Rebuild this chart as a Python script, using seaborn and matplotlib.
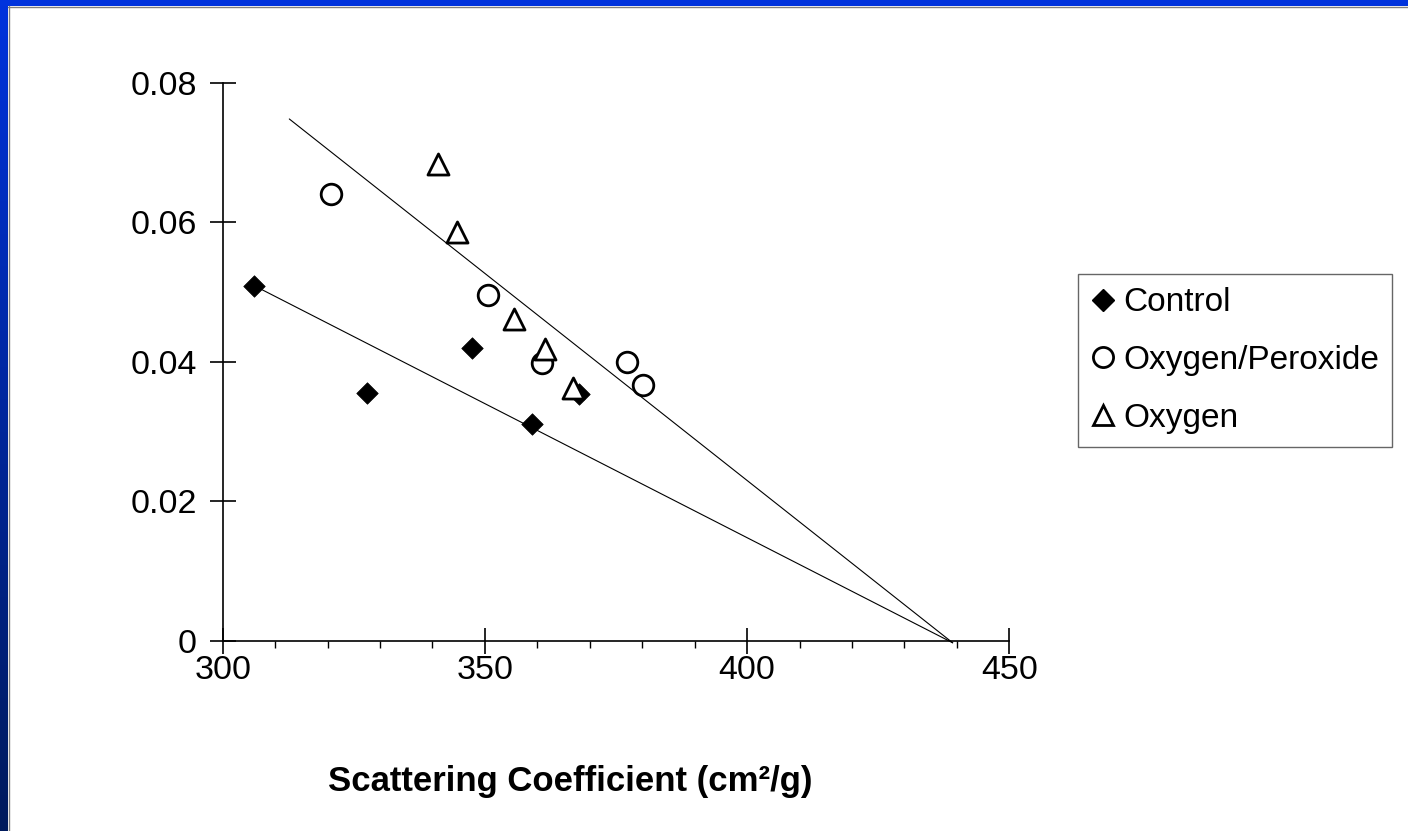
import numpy as np
import seaborn as sns
import matplotlib.pyplot as plt
from matplotlib.patches import Rectangle
from matplotlib.lines import Line2D
from matplotlib.ticker import MultipleLocator

# data
control_x = [306.0, 327.6, 347.5, 359.0, 367.9]
control_y = [0.0509, 0.0355, 0.0420, 0.0310, 0.0354]
peroxide_x = [320.6, 350.5, 360.8, 377.1, 380.1]
peroxide_y = [0.0640, 0.0495, 0.0398, 0.0399, 0.0367]
oxygen_x = [341.0, 344.6, 355.5, 361.5, 366.8]
oxygen_y = [0.0683, 0.0586, 0.0461, 0.0418, 0.0363]

# trend lines (endpoints as drawn)
control_fit_x = [306.0, 439.2]
control_fit_y = [0.0509, -0.0003]
upper_fit_x = [312.7, 439.2]
upper_fit_y = [0.0748, -0.0003]

xticks = [300, 350, 400, 450]
xtick_labels = ["300", "350", "400", "450"]
yticks = [0, 0.02, 0.04, 0.06, 0.08]
ytick_labels = ["0", "0.02", "0.04", "0.06", "0.08"]
series_names = ["Control", "Oxygen/Peroxide", "Oxygen"]

sns.set_style("white")
plt.rcParams["font.family"] = ["Liberation Sans", "DejaVu Sans"]
plt.rcParams["text.color"] = "black"
plt.rcParams["xtick.color"] = "black"
plt.rcParams["ytick.color"] = "black"
plt.rcParams["axes.labelcolor"] = "black"

W, H = 1408, 831
fig = plt.figure(figsize=(W / 100, H / 100), dpi=100)
fig.patch.set_facecolor("white")

ax = fig.add_axes([222.7 / W, 1 - 640.7 / H, (1009.3 - 222.7) / W, (640.7 - 82.7) / H])

sns.lineplot(x=control_fit_x, y=control_fit_y, ax=ax, color="black", lw=0.8, clip_on=False)
sns.lineplot(x=upper_fit_x, y=upper_fit_y, ax=ax, color="black", lw=0.8, clip_on=False)

sns.scatterplot(x=control_x, y=control_y, ax=ax, marker="D", s=120, color="black",
                edgecolor="black", linewidth=0.5, zorder=3, clip_on=False)
sns.scatterplot(x=peroxide_x, y=peroxide_y, ax=ax, marker="o", s=220, facecolor="white",
                edgecolor="black", linewidth=2.0, zorder=3, clip_on=False)
sns.scatterplot(x=oxygen_x, y=oxygen_y, ax=ax, marker="^", s=230, facecolor="white",
                edgecolor="black", linewidth=2.0, zorder=3, clip_on=False)

ax.set_xlim(300, 450)
ax.set_ylim(0, 0.08)
ax.set_xticks(xticks)
ax.set_xticklabels(xtick_labels)
ax.set_yticks(yticks)
ax.set_yticklabels(ytick_labels)
ax.xaxis.set_minor_locator(MultipleLocator(10))
ax.tick_params(which="major", direction="inout", length=19, width=1.2,
               labelsize=24.5, left=True, bottom=True)
ax.tick_params(axis="y", which="major", pad=9)
ax.tick_params(axis="x", which="major", pad=1)
ax.tick_params(axis="x", which="minor", direction="out", length=5, width=1.0, bottom=True)
for side in ["top", "right"]:
    ax.spines[side].set_visible(False)
for side in ["left", "bottom"]:
    ax.spines[side].set_color("black")
    ax.spines[side].set_linewidth(1.2)
ax.set_facecolor("white")

ax.set_xlabel("Scattering Coefficient (cm\u00b2/g)", fontsize=25, fontweight="bold")
ax.xaxis.set_label_coords(0.4415, -0.223)
ax.xaxis.label.set_va("top")

handles = [
    Line2D([], [], ls="none", marker="D", ms=11, mfc="black", mec="black"),
    Line2D([], [], ls="none", marker="o", ms=14.5, mfc="white", mec="black", mew=2.0),
    Line2D([], [], ls="none", marker="^", ms=14.5, mfc="white", mec="black", mew=2.0),
]
leg = fig.legend(handles, series_names, loc="upper left",
                 bbox_to_anchor=(1078 / W, 1 - 274 / H), bbox_transform=fig.transFigure,
                 fontsize=24, frameon=True, fancybox=False, borderaxespad=0,
                 handlelength=0.7, handletextpad=0.25, labelspacing=0.8, borderpad=0.4)
leg.get_frame().set_edgecolor("#404040")
leg.get_frame().set_linewidth(1.0)

# blue slide frame: top bar and left gradient bar
fig.add_artist(Rectangle((0, 1 - 6 / H), 1, 6 / H, transform=fig.transFigure,
                         facecolor="#0033DD", edgecolor="none"))
fig.add_artist(Line2D([8 / W, 1], [1 - 6.5 / H, 1 - 6.5 / H], transform=fig.transFigure,
                      color="#808080", lw=1))
bar = fig.add_axes([0, 0, 8 / W, 1])
grad = np.linspace(0, 1, 256).reshape(-1, 1)
top_c = np.array([0, 51, 221]) / 255
bot_c = np.array([0, 26, 92]) / 255
img = top_c * (1 - grad[..., None]) + bot_c * grad[..., None]
bar.imshow(img, aspect="auto", extent=[0, 1, 0, 1], origin="upper")
bar.axis("off")
fig.add_artist(Line2D([8.5 / W, 8.5 / W], [0, 1 - 6 / H], transform=fig.transFigure,
                      color="#808080", lw=1))

fig.savefig("out.png", dpi=100, facecolor="white")
